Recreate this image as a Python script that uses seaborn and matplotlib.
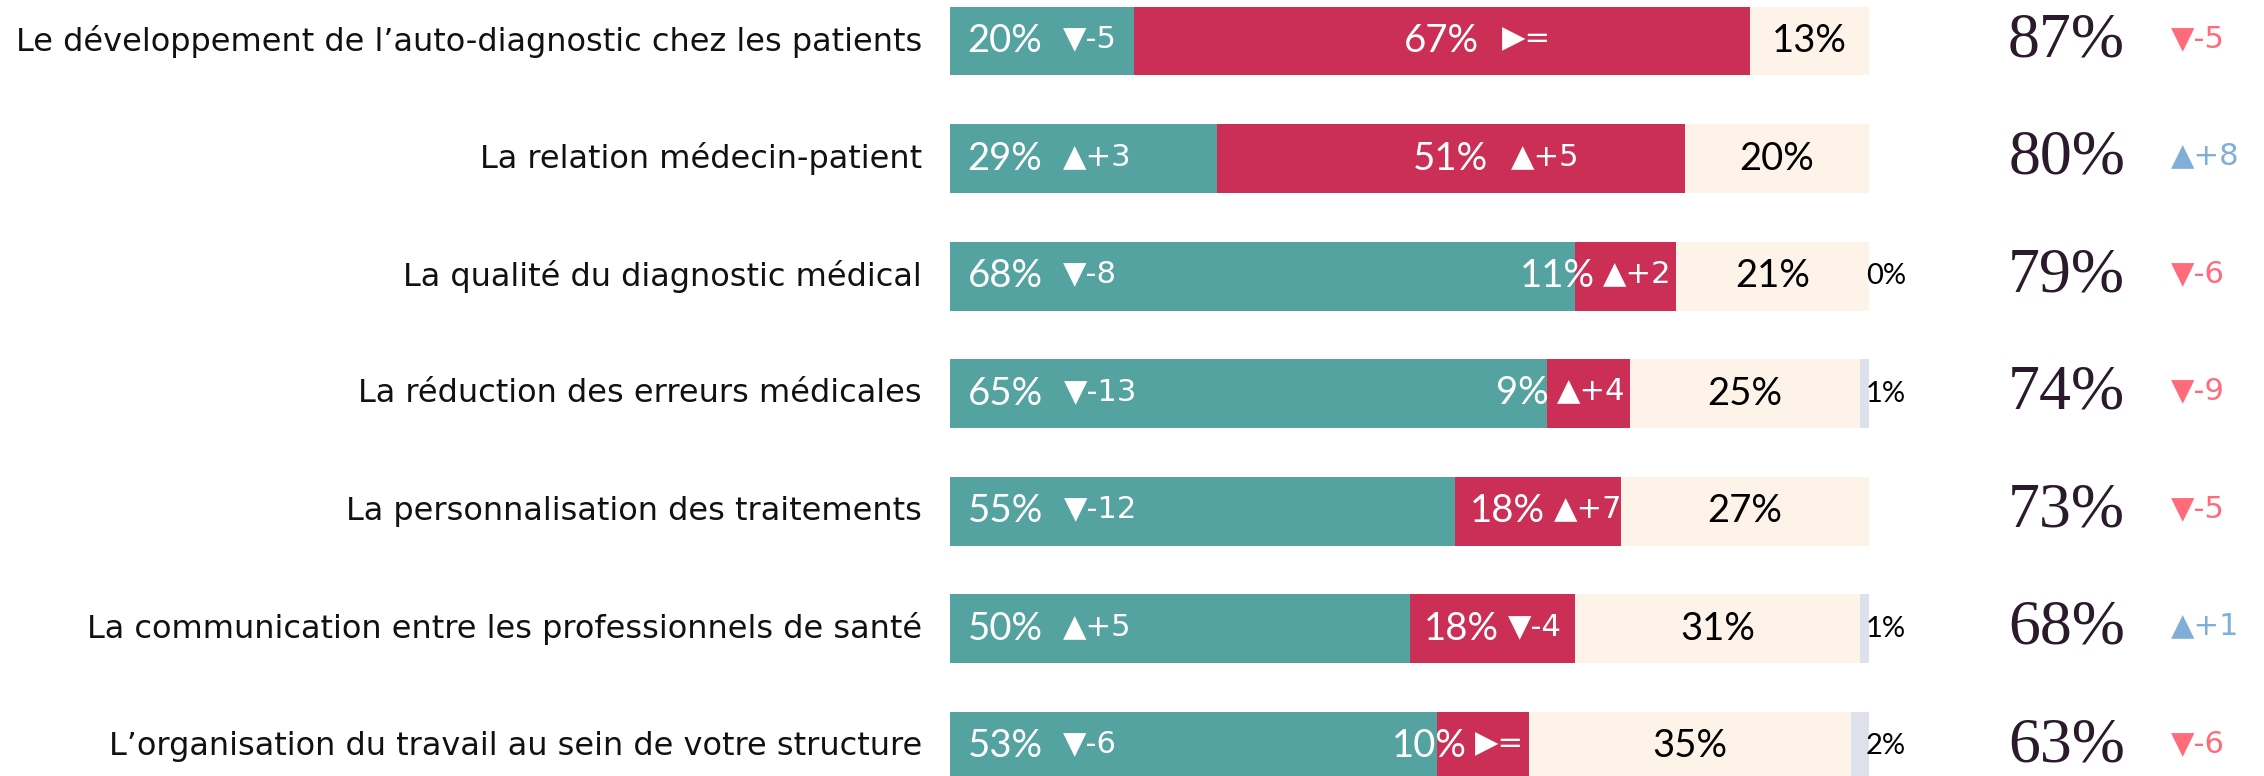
import numpy as np
import pandas as pd
import matplotlib.pyplot as plt
import seaborn as sns

# Donnees
categories = [
    "Le développement de l’auto-diagnostic chez les patients",
    "La relation médecin-patient",
    "La qualité du diagnostic médical",
    "La réduction des erreurs médicales",
    "La personnalisation des traitements",
    "La communication entre les professionnels de santé",
    "L’organisation du travail au sein de votre structure",
]
teal_vals = [20, 29, 68, 65, 55, 50, 53]
red_vals = [67, 51, 11, 9, 18, 18, 10]
cream_vals = [13, 20, 21, 25, 27, 31, 35]
other_vals = [0, 0, 0, 1, 0, 1, 2]
other_shown = [False, False, True, True, False, True, True]
teal_delta = ["▼-5", "▲+3", "▼-8", "▼-13", "▼-12", "▲+5", "▼-6"]
red_delta = ["▶=", "▲+5", "▲+2", "▲+4", "▲+7", "▼-4", "▶="]
total_delta = ["▼-5", "▲+8", "▼-6", "▼-9", "▼-5", "▲+1", "▼-6"]

df = pd.DataFrame({
    "cat": categories, "teal": teal_vals, "red": red_vals,
    "cream": cream_vals, "other": other_vals,
})
df["c1"] = df["teal"]
df["c2"] = df["c1"] + df["red"]
df["c3"] = df["c2"] + df["cream"]
df["c4"] = df["c3"] + df["other"]

# Couleurs
teal, red, cream, lav = "#55A3A0", "#CB2F56", "#FDF3E9", "#DEE0EB"
pink, blue, dark = "#FF6B7A", "#7FAED6", "#2A1A2C"

sns.set_style("white")
plt.rcParams["font.family"] = ["Lato", "DejaVu Sans"]

W, H = 2264, 776
fig = plt.figure(figsize=(W / 100, H / 100), dpi=100)
ax = fig.add_axes([950 / W, 0, 919 / W, 1])

# barres empilees (superposition des cumuls)
for col, c in [("c4", lav), ("c3", cream), ("c2", red), ("c1", teal)]:
    sns.barplot(data=df, x=col, y="cat", color=c, width=0.587, linewidth=0,
                saturation=1, orient="h", ax=ax)

ax.set_xlim(0, 100)
ax.set_ylim(6.255, -0.349)
ax.axis("off")

fs_pct, fs_delta = 27.5, 22
gap = 15
dv = ["DejaVu Sans"]


def delta_after(anchor, delta, color, gap_pts):
    ax.annotate(delta, xy=(1, 0.5), xycoords=anchor, xytext=(gap_pts, 1.5),
                textcoords="offset points", ha="left", va="center",
                fontsize=fs_delta, color=color, family=dv)


for i, row in df.iterrows():
    # label categorie
    ax.text(-3.05, i, row["cat"], ha="right", va="center", fontsize=23,
            color="#111111", family=dv)

    # teal
    t = ax.text(1.9, i, f"{row['teal']}%", ha="left", va="center",
                fontsize=fs_pct, color="white")
    delta_after(t, teal_delta[i], "white", gap)

    # rouge
    w = row["red"]
    if w >= 40:
        t = ax.text(row["c1"] + w / 2, i, f"{w}%", ha="center", va="center",
                    fontsize=fs_pct, color="white")
        delta_after(t, red_delta[i], "white", gap * 1.1)
    elif w >= 15:
        t = ax.text(row["c1"] + 1.6, i, f"{w}%", ha="left", va="center",
                    fontsize=fs_pct, color="white")
        delta_after(t, red_delta[i], "white", gap * 0.4)
    else:
        d = ax.text(row["c2"] - 0.5, i - 0.02, red_delta[i], ha="right",
                    va="center", fontsize=fs_delta, color="white", family=dv)
        ax.annotate(f"{w}%", xy=(0, 0.5), xycoords=d, xytext=(-6, -1.5),
                    textcoords="offset points", ha="right", va="center",
                    fontsize=fs_pct, color="white")

    # creme
    ax.text(row["c2"] + row["cream"] / 2, i, f"{row['cream']}%", ha="center",
            va="center", fontsize=fs_pct, color="black")

    # autre
    if other_shown[i]:
        ax.text(101.85, i, f"{row['other']}%", ha="center", va="center",
                fontsize=21, color="black")

    # total + evolution
    ax.text(121.5, i, f"{row['c2']}%", ha="center", va="center",
            fontsize=46, color=dark, family=["Liberation Serif", "DejaVu Serif"])
    col = pink if total_delta[i].startswith("▼") else blue
    ax.text(132.8, i - 0.02, total_delta[i], ha="left", va="center",
            fontsize=fs_delta, color=col, family=dv)

fig.savefig("out.png", dpi=100)
